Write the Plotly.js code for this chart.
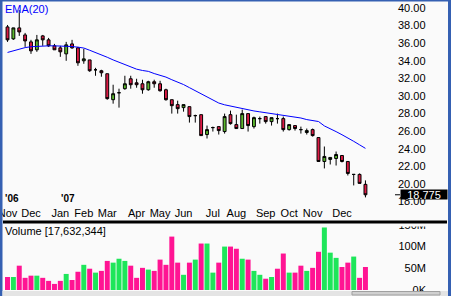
<!DOCTYPE html>
<html><head><meta charset="utf-8">
<script src="https://cdn.plot.ly/plotly-3.0.1.min.js"></script>
<style>html,body{margin:0;padding:0;background:#fafafa;overflow:hidden}#chart{width:451px;height:296px}</style>
</head><body><div id="chart"></div>
<script>
// ---- data (weekly bars, week ending Friday) ----
const weeks = ["2006-11-03","2006-11-10","2006-11-17","2006-11-24","2006-12-01","2006-12-08","2006-12-15","2006-12-22","2006-12-29",
"2007-01-05","2007-01-12","2007-01-19","2007-01-26","2007-02-02","2007-02-09","2007-02-16","2007-02-23","2007-03-02","2007-03-09","2007-03-16","2007-03-23","2007-03-30",
"2007-04-06","2007-04-13","2007-04-20","2007-04-27","2007-05-04","2007-05-11","2007-05-18","2007-05-25","2007-06-01","2007-06-08","2007-06-15","2007-06-22","2007-06-29",
"2007-07-06","2007-07-13","2007-07-20","2007-07-27","2007-08-03","2007-08-10","2007-08-17","2007-08-24","2007-08-31","2007-09-07","2007-09-14","2007-09-21","2007-09-28",
"2007-10-05","2007-10-12","2007-10-19","2007-10-26","2007-11-02","2007-11-09","2007-11-16","2007-11-23","2007-11-30","2007-12-07","2007-12-14","2007-12-21","2007-12-28","2008-01-04"];
const openP  = [37.85,36.49,37.74,36.94,36.15,35.25,36.83,36.38,35.70,35.47,34.79,35.92,35.47,34.00,34.10,32.98,32.87,32.53,29.58,30.37,30.83,31.96,31.50,31.39,30.71,31.62,31.39,30.71,29.58,29.02,28.68,28.79,27.77,27.88,25.62,26.41,26.52,25.96,27.88,26.75,26.30,28.00,26.52,27.43,27.66,27.09,27.43,27.43,26.18,26.64,26.18,25.85,26.18,25.28,22.56,22.79,22.90,23.24,22.56,21.09,21.09,19.96];
const highP  = [38.07,37.76,39.77,37.17,36.38,36.94,36.94,36.60,35.92,35.70,36.15,36.38,35.58,35.36,34.10,33.20,32.98,32.53,31.28,30.83,32.30,32.30,31.96,31.85,31.73,31.85,31.73,30.83,29.58,29.47,29.02,28.79,27.88,27.88,26.64,26.52,26.52,28.00,28.34,27.88,28.45,28.00,27.66,27.66,27.66,27.54,28.00,27.66,26.75,26.64,26.52,26.30,26.30,25.28,24.26,23.02,23.69,23.24,22.56,21.09,21.20,20.41];
const lowP   = [36.15,36.38,36.83,35.58,34.79,35.02,35.70,35.58,35.25,34.45,34.00,35.36,33.43,33.66,32.75,32.30,32.19,29.58,29.13,28.68,30.71,30.83,30.94,30.26,30.60,30.94,30.49,29.47,28.00,28.00,28.22,26.98,26.98,25.50,25.17,25.96,25.62,25.73,26.75,26.30,26.30,25.96,26.30,26.86,26.86,26.64,26.86,25.96,26.07,26.07,25.73,25.62,25.39,22.56,21.77,22.22,22.10,22.45,20.97,19.84,20.07,18.48];
const closeP = [36.38,37.74,37.28,36.26,35.13,36.38,36.38,35.70,35.25,35.02,35.81,35.47,33.77,34.22,32.87,32.98,32.64,29.70,30.26,30.37,31.39,31.28,31.28,30.71,31.62,31.39,30.60,29.58,28.90,28.56,29.02,27.66,27.77,25.50,26.18,26.41,26.07,27.66,26.86,26.30,28.00,26.64,27.54,27.43,27.09,27.54,27.43,26.18,26.75,26.30,26.18,26.07,25.50,22.56,23.13,23.02,23.35,22.56,21.20,21.09,20.07,18.775];
const ema20  = [34.95,35.15,35.35,35.50,35.60,35.65,35.68,35.70,35.70,35.70,35.68,35.62,35.55,35.45,35.20,34.95,34.70,34.40,34.10,33.85,33.60,33.30,33.05,32.90,32.80,32.55,32.35,32.15,31.85,31.60,31.30,30.95,30.60,30.25,29.95,29.60,29.20,29.00,28.85,28.70,28.62,28.45,28.30,28.20,28.10,28.00,27.97,27.85,27.72,27.60,27.50,27.32,27.22,27.10,26.60,26.30,25.95,25.60,25.25,24.85,24.45,24.05];
const volumeM = [30,30,56,28,33,33,28,21,14,21,37,23,42,58,49,40,44,67,63,72,67,56,28,51,47,44,70,58,123,63,35,63,70,107,107,40,63,100,100,95,72,70,44,35,26,30,49,84,40,40,56,44,51,88,144,86,74,53,63,77,28,53];
const volumeUp = [0,1,0,0,0,1,0,0,0,0,1,0,0,1,0,1,0,0,1,1,1,0,0,0,1,0,0,0,0,0,1,0,1,0,1,1,0,1,0,0,1,0,1,1,0,1,0,0,1,0,0,1,0,0,1,1,1,0,0,1,0,0];
const monthTickWeeks = ["2006-11-03","2006-12-01","2007-01-05","2007-02-02","2007-03-02","2007-04-06","2007-05-04","2007-06-01","2007-07-06","2007-08-03","2007-09-07","2007-10-05","2007-11-02","2007-12-07"];
const monthTickText = ["Nov","Dec","Jan","Feb","Mar","Apr","May","Jun","Jul","Aug","Sep","Oct","Nov","Dec"];
const yearWeeks = ["2006-11-03","2007-01-05"];
const yearText = ["'06","'07"];
const priceTicks = [18,20,22,24,26,28,30,32,34,36,38,40];
const volTicks = [0,50,100,150];
const volTickText = ["0K","50M","100M","150M"];
const lastPriceText = "18.775";
const volumeTitle = "Volume [17,632,344]";
const emaTitle = "EMA(20)";

// ---- layout helpers (pixel -> paper) ----
const W = 451, H = 296;
const fx = p => p / W, fy = p => 1 - p / H;
const FONT = "Liberation Sans, Arial, sans-serif";
const RED = "#dc1a44", GREEN = "#5cb82e", VPINK = "#ff1493", VGREEN = "#1ee65a", FRAME = "#3560b2", BG = "#fafafa";

const traces = [
  {type: "candlestick", x: weeks, open: openP, high: highP, low: lowP, close: closeP,
   xaxis: "x", yaxis: "y", whiskerwidth: 0, hoverinfo: "skip",
   increasing: {line: {color: "#000", width: 1}, fillcolor: GREEN},
   decreasing: {line: {color: "#000", width: 1}, fillcolor: RED}},
  {type: "scatter", mode: "lines", x: weeks, y: ema20, xaxis: "x", yaxis: "y",
   line: {color: "#0000ff", width: 1}, hoverinfo: "skip"},
  {type: "bar", x: weeks, y: volumeM, xaxis: "x2", yaxis: "y2", hoverinfo: "skip",
   marker: {color: volumeUp.map(u => u ? VGREEN : VPINK), line: {width: 0}}}
];

const annotations = [
  {xref: "paper", yref: "paper", x: fx(3), y: fy(1), xanchor: "left", yanchor: "top", showarrow: false,
   text: emaTitle, font: {family: FONT, size: 11, color: "#0000ff"}},
  {xref: "paper", yref: "paper", x: fx(3), y: fy(223), xanchor: "left", yanchor: "top", showarrow: false,
   text: volumeTitle, font: {family: FONT, size: 11, color: "#000"}},
  {xref: "paper", yref: "y", x: fx(400), y: closeP[closeP.length - 1], xanchor: "left", yanchor: "middle", showarrow: false,
   text: lastPriceText, bgcolor: "#000", width: 46, height: 9, borderpad: 0, font: {family: FONT, size: 11, color: "#fff"}}
];
yearWeeks.forEach((w, i) => annotations.push({
  xref: "x", yref: "paper", x: w, y: fy(198), xanchor: "left", yanchor: "middle", xshift: i === 0 ? -5 : -1,
  showarrow: false, text: "<b>" + yearText[i] + "</b>", font: {family: FONT, size: 10, color: "#000"}}));

const shapes = [
  // hide most of the top volume label, as in the reference (only a sliver shows under the divider)
  {type: "rect", xref: "paper", yref: "paper", x0: fx(392), x1: fx(440), y0: fy(226.5), y1: fy(216), fillcolor: BG, line: {width: 0}, layer: "above"},
  {type: "rect", xref: "paper", yref: "paper", x0: fx(3), x1: fx(447), y0: fy(220.5), y1: fy(223.5), fillcolor: "#000", line: {width: 0}, layer: "above"},
  {type: "line", xref: "paper", yref: "y", x0: fx(395), x1: fx(400), y0: closeP[closeP.length - 1], y1: closeP[closeP.length - 1], line: {color: "#000", width: 1}},
  {type: "rect", xref: "paper", yref: "paper", x0: 0, x1: fx(2.5), y0: 0, y1: 1, fillcolor: FRAME, line: {width: 0}, layer: "above"},
  {type: "rect", xref: "paper", yref: "paper", x0: 0, x1: 1, y0: fy(1.5), y1: 1, fillcolor: FRAME, line: {width: 0}, layer: "above"},
  {type: "rect", xref: "paper", yref: "paper", x0: fx(448), x1: 1, y0: 0, y1: 1, fillcolor: FRAME, line: {width: 0}, layer: "above"},
  {type: "rect", xref: "paper", yref: "paper", x0: fx(2.5), x1: fx(448), y0: 0, y1: fy(291), fillcolor: "#e4e4e4", line: {width: 0}, layer: "above"},
  {type: "rect", xref: "paper", yref: "paper", x0: fx(352), x1: fx(440), y0: fy(295), y1: fy(291.5), fillcolor: "#d0d0d0", line: {color: "#a0a0a0", width: 1}, layer: "above"}
];

const layout = {
  width: W, height: H, margin: {l: 0, r: 0, t: 0, b: 0},
  paper_bgcolor: BG, plot_bgcolor: BG, showlegend: false,
  font: {family: FONT, size: 11, color: "#000"},
  bargap: 0.15,
  xaxis: {type: "category", domain: [fx(3), fx(447)], range: [-0.77, 74.9], anchor: "y",
    rangeslider: {visible: false}, tickvals: monthTickWeeks, ticktext: monthTickText, ticks: "",
    showgrid: false, zeroline: false, showline: false, tickfont: {family: FONT, size: 11, color: "#000"}},
  xaxis2: {type: "category", matches: "x", domain: [fx(3), fx(447)], anchor: "y2", showticklabels: false,
    showgrid: false, zeroline: false, showline: false, rangeslider: {visible: false}},
  yaxis: {domain: [fy(205), fy(1)], range: [17.614, 40.795], anchor: "free", position: fx(397), side: "right",
    tickvals: priceTicks, tickformat: ".2f", ticks: "", showgrid: false, zeroline: false, showline: false,
    tickfont: {family: FONT, size: 11, color: "#000"}},
  yaxis2: {domain: [fy(290), fy(224)], range: [0, 152], anchor: "free", position: fx(426), side: "left",
    tickvals: volTicks, ticktext: volTickText, ticks: "", showgrid: false, zeroline: false, showline: false,
    tickfont: {family: FONT, size: 11, color: "#000"}},
  annotations: annotations, shapes: shapes
};

Plotly.newPlot("chart", traces, layout, {staticPlot: true, displayModeBar: false});
</script></body></html>
